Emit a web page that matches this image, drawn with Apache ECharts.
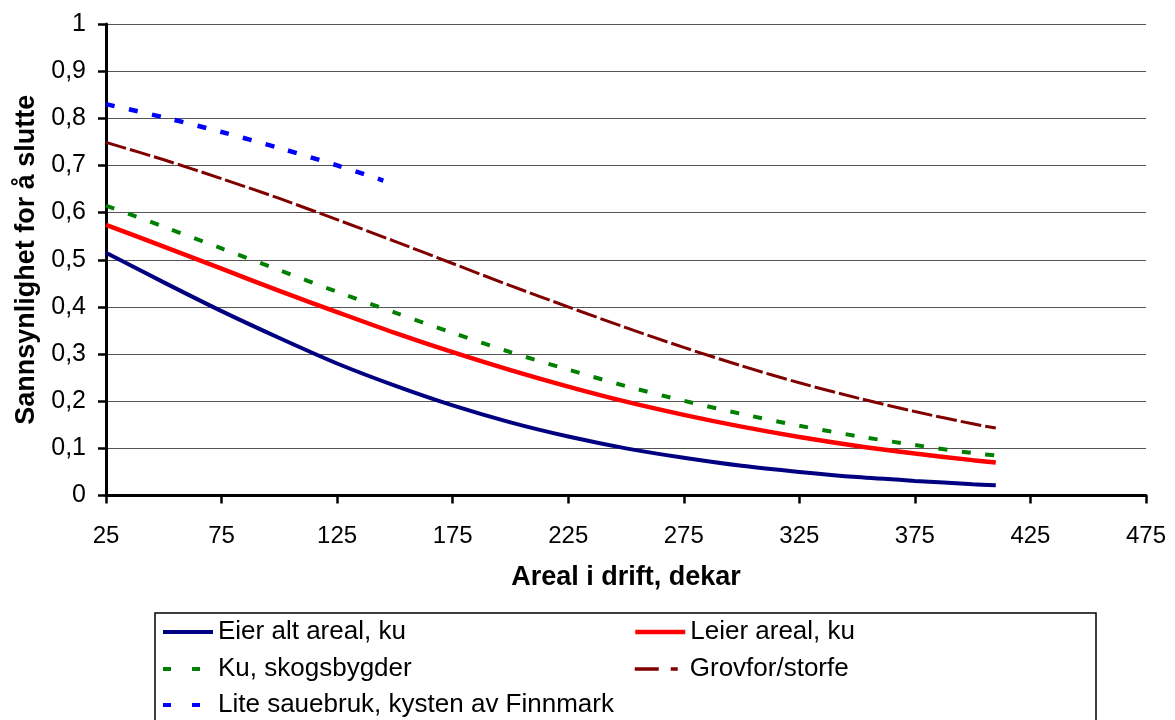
<!DOCTYPE html>
<html>
<head>
<meta charset="utf-8">
<script src="https://cdn.jsdelivr.net/npm/echarts@6/dist/echarts.min.js"></script>
<style>
html,body{margin:0;padding:0;background:#fff;}
#chart{width:1175px;height:720px;}
</style>
</head>
<body>
<div id="chart"></div>
<script>
// Data
var xValues = [25, 50, 75, 100, 125, 150, 175, 200, 225, 250, 275, 300, 325, 350, 375, 400, 410];
var eierAltAreal = [0.515, 0.452, 0.391, 0.334, 0.280, 0.233, 0.191, 0.155, 0.125, 0.100, 0.080, 0.063, 0.050, 0.039, 0.031, 0.024, 0.022];
var leierAreal   = [0.574, 0.528, 0.481, 0.434, 0.389, 0.345, 0.304, 0.266, 0.231, 0.199, 0.171, 0.146, 0.124, 0.105, 0.089, 0.075, 0.070];
var kuSkog       = [0.615, 0.570, 0.524, 0.478, 0.432, 0.388, 0.345, 0.304, 0.267, 0.232, 0.201, 0.173, 0.148, 0.126, 0.107, 0.090, 0.085];
var grovfor      = [0.749, 0.712, 0.672, 0.630, 0.585, 0.539, 0.492, 0.445, 0.400, 0.356, 0.314, 0.275, 0.239, 0.207, 0.178, 0.152, 0.143];
var sauX = [25, 50, 75, 100, 125, 145];
var sauebruk = [0.830, 0.802, 0.771, 0.737, 0.700, 0.668];

var seriesNames = ['Eier alt areal, ku', 'Leier areal, ku', 'Ku, skogsbygder', 'Grovfor/storfe', 'Lite sauebruk, kysten av Finnmark'];
var xTicks = [25, 75, 125, 175, 225, 275, 325, 375, 425, 475];
var yTicks = [0, 0.1, 0.2, 0.3, 0.4, 0.5, 0.6, 0.7, 0.8, 0.9, 1];

function pairs(xs, ys) { return xs.map(function (x, i) { return [x, ys[i]]; }); }

var FONT = "'Liberation Sans', Arial, sans-serif";

var chart = echarts.init(document.getElementById('chart'), null, {renderer: 'canvas'});

function legendAt(name, left, cy, color, width, type) {
  return {
    data: [name], left: left, top: cy - 14, padding: 0,
    itemWidth: 50, itemHeight: 14, itemGap: 0,
    selectedMode: false,
    lineStyle: {color: color, width: width, type: type, cap: 'butt'},
    textStyle: {fontFamily: FONT, fontSize: 26, color: '#000', lineHeight: 28, padding: [0, 0, 0, 0]}
  };
}

function lineSeries(name, data, color, width, type) {
  return {
    name: name, type: 'line', data: data,
    symbol: 'none', showSymbol: false, smooth: 0.3,
    lineStyle: {color: color, width: width, type: type, cap: 'butt'},
    itemStyle: {color: 'rgba(0,0,0,0)', borderWidth: 0},
    emphasis: {disabled: true}, animation: false
  };
}

chart.setOption({
  backgroundColor: '#ffffff',
  animation: false,
  grid: {left: 106, right: 29, top: 24, bottom: 224.5, containLabel: false},
  xAxis: {
    type: 'value', min: xTicks[0], max: xTicks[xTicks.length - 1], interval: 50,
    name: 'Areal i drift, dekar', nameLocation: 'middle', nameGap: 69,
    nameTextStyle: {fontFamily: FONT, fontSize: 27, fontWeight: 'bold', color: '#000'},
    axisLine: {show: true, onZero: false, lineStyle: {color: '#000', width: 3}},
    axisTick: {show: true, length: 8, lineStyle: {color: '#000', width: 2.5}},
    axisLabel: {margin: 29, fontFamily: FONT, fontSize: 24, color: '#000'},
    splitLine: {show: false}
  },
  yAxis: {
    type: 'value', min: yTicks[0], max: yTicks[yTicks.length - 1], interval: 0.1,
    name: 'Sannsynlighet for å slutte', nameLocation: 'middle', nameGap: 62,
    nameTextStyle: {fontFamily: FONT, fontSize: 27, fontWeight: 'bold', color: '#000'},
    axisLine: {show: true, lineStyle: {color: '#000', width: 3}},
    axisTick: {show: true, length: 8, lineStyle: {color: '#000', width: 2.5}},
    axisLabel: {
      margin: 20, fontFamily: FONT, fontSize: 25, color: '#000',
      formatter: function (v) {
        var r = Math.round(v * 10) / 10;
        if (r === 0) return '0';
        if (r === 1) return '1';
        return r.toFixed(1).replace('.', ',');
      }
    },
    splitLine: {show: true, lineStyle: {color: '#555', width: 1}}
  },
  legend: [
    legendAt(seriesNames[0], 161, 632, '#000080', 4, 'solid'),
    legendAt(seriesNames[1], 633, 632, '#FF0000', 4.5, 'solid'),
    legendAt(seriesNames[2], 161, 669, '#008000', 4, [8, 21]),
    legendAt(seriesNames[3], 633, 669, '#800000', 3.5, [24, 12, 7, 20]),
    legendAt(seriesNames[4], 161, 705, '#0000FF', 4, [8, 21])
  ],
  graphic: [{
    type: 'rect', z: -1, silent: true,
    shape: {x: 155, y: 613, width: 941, height: 200},
    style: {fill: 'none', stroke: '#000', lineWidth: 1.5}
  }],
  series: [
    lineSeries(seriesNames[0], pairs(xValues, eierAltAreal), '#000080', 4, 'solid'),
    lineSeries(seriesNames[1], pairs(xValues, leierAreal), '#FF0000', 4.5, 'solid'),
    lineSeries(seriesNames[2], pairs(xValues, kuSkog), '#008000', 4, [9, 14.5]),
    lineSeries(seriesNames[3], pairs(xValues, grovfor), '#800000', 3, [21, 4]),
    lineSeries(seriesNames[4], pairs(sauX, sauebruk), '#0000FF', 4.5, [9, 14.5])
  ]
});
</script>
</body>
</html>
